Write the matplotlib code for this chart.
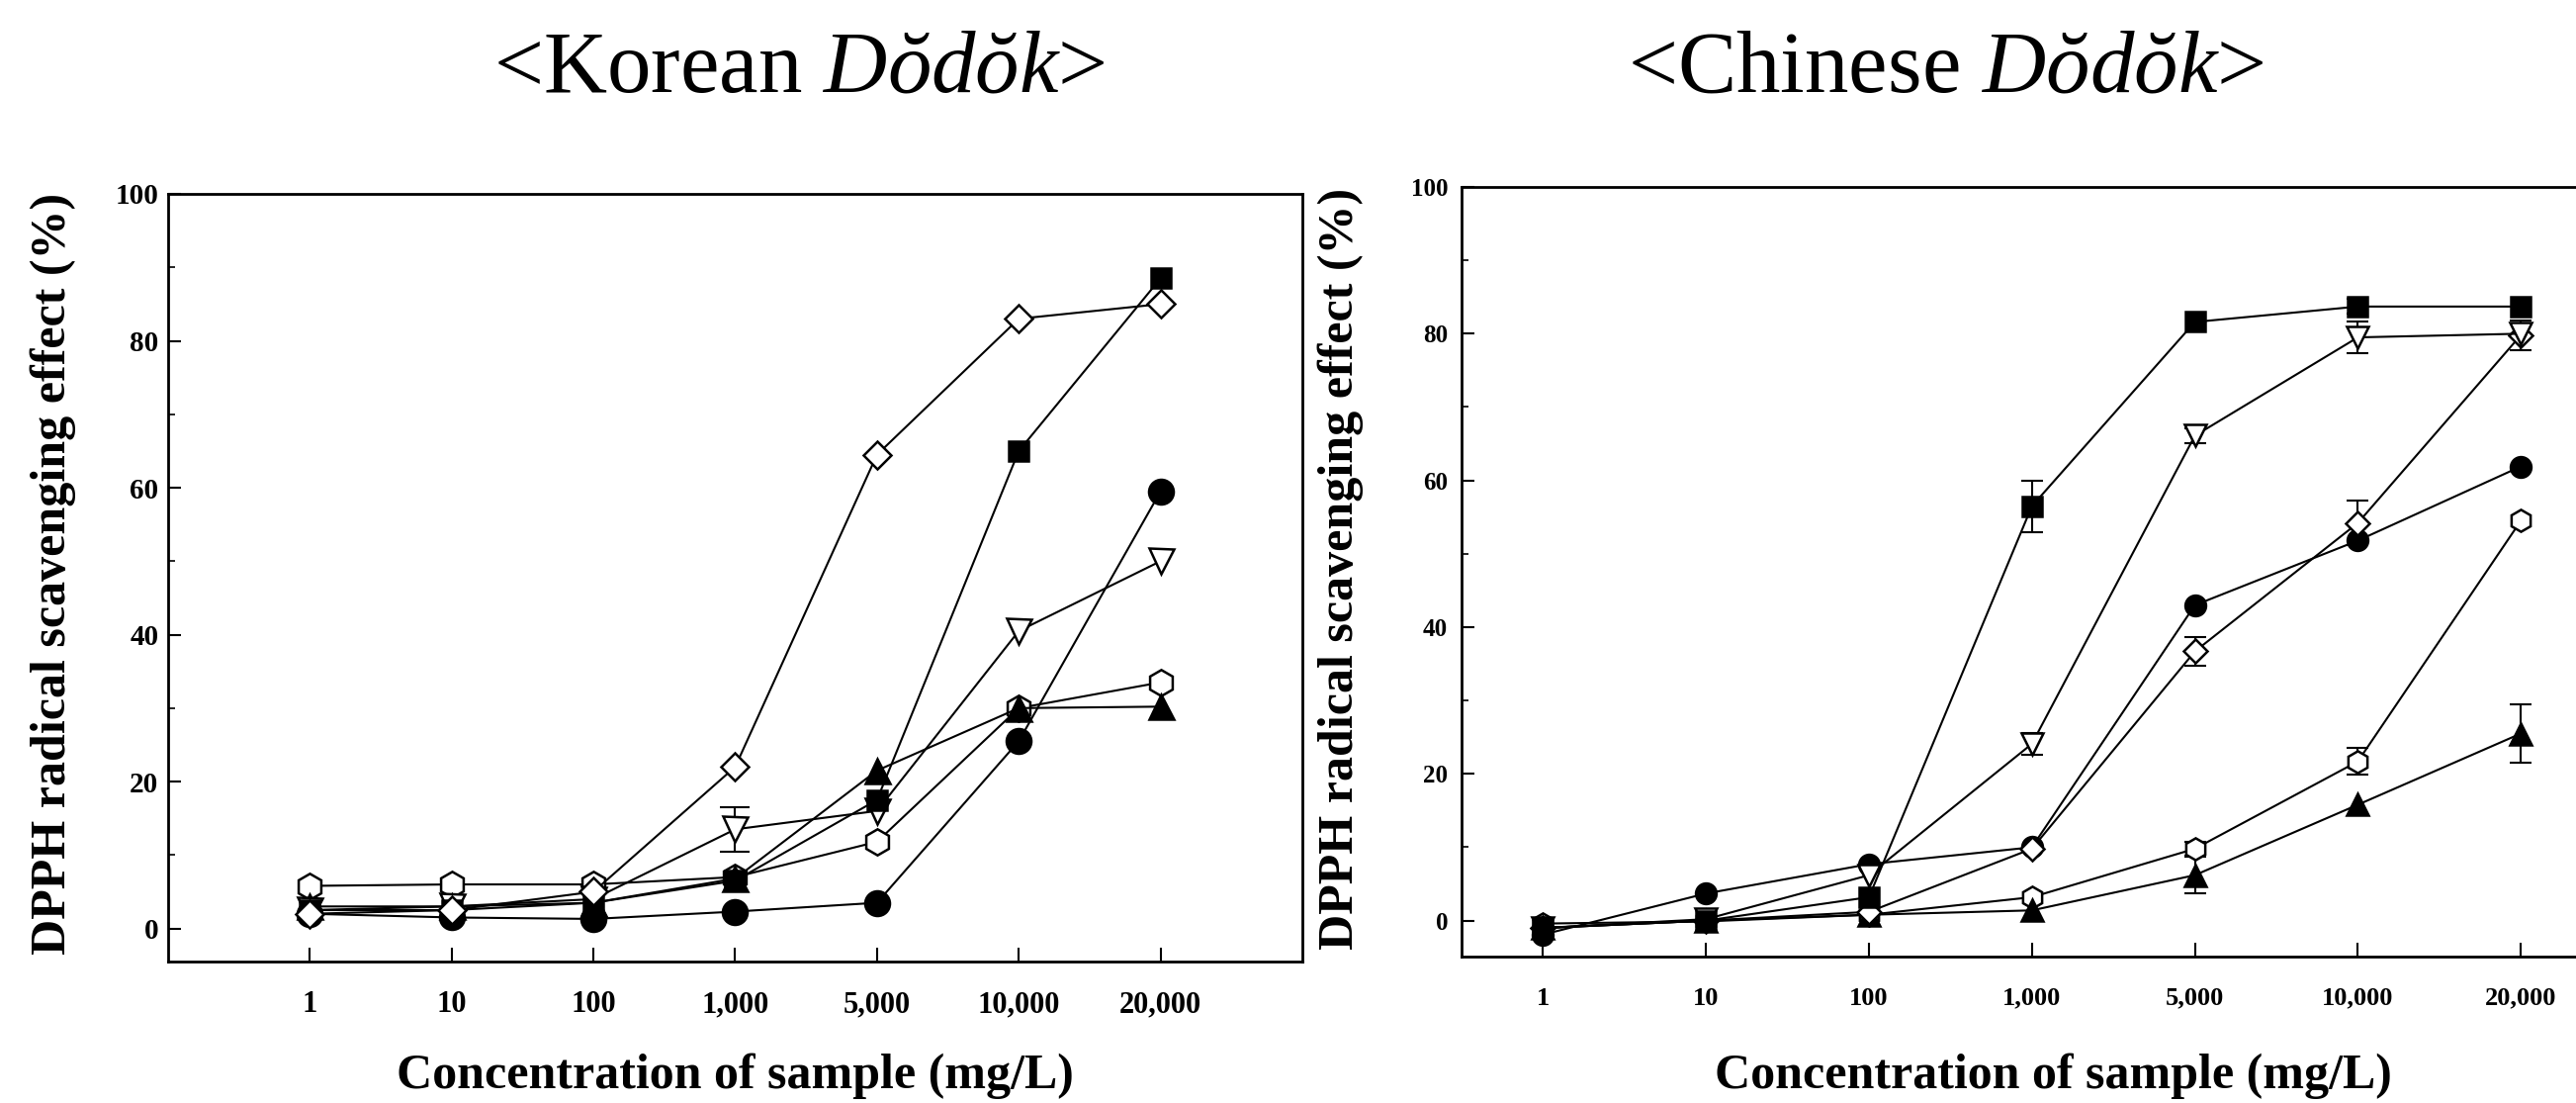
import matplotlib
matplotlib.use("Agg")
import matplotlib.pyplot as plt
from matplotlib.ticker import MultipleLocator

plt.rcParams['font.family'] = ['Liberation Serif', 'DejaVu Serif']
plt.rcParams['mathtext.fontset'] = 'custom'
plt.rcParams['mathtext.rm'] = 'Liberation Serif'
plt.rcParams['mathtext.it'] = 'Liberation Serif:italic'

conc_labels = ["1", "10", "100", "1,000", "5,000", "10,000", "20,000"]

# Korean Dodok (left panel)
kor_sq = [2.5, 2.5, 3.5, 6.5, 17.5, 65.0, 88.5]
kor_dia = [2.0, 2.5, 5.0, 22.0, 64.5, 83.0, 85.0]
kor_circ = [2.0, 1.5, 1.3, 2.3, 3.5, 25.5, 59.5]
kor_tdown = [2.5, 3.0, 4.0, 13.5, 16.0, 40.5, 50.0]
kor_hex = [5.8, 6.0, 6.0, 7.0, 11.8, 30.0, 33.5]
kor_tup = [3.0, 3.0, 3.5, 6.8, 21.5, 30.0, 30.2]
kor_tdown_err = [0, 0, 0, 3.0, 0, 0, 0]

# Chinese Dodok (right panel)
chn_sq = [-1.0, 0.0, 3.2, 56.5, 81.6, 83.7, 83.7]
chn_tdown = [-1.0, 0.2, 6.2, 24.1, 66.1, 79.5, 80.0]
chn_dia = [-1.0, 0.0, 1.2, 9.8, 36.7, 54.2, 79.8]
chn_circ = [-1.9, 3.7, 7.7, 10.0, 43.0, 51.8, 61.9]
chn_hex = [-0.4, -0.1, 0.8, 3.2, 9.8, 21.7, 54.5]
chn_tup = [-1.0, 0.0, 0.8, 1.4, 6.2, 15.8, 25.5]
chn_sq_err = [0, 0, 0, 3.5, 0, 1.0, 0]
chn_tdown_err = [0, 0, 0, 1.5, 1.0, 2.2, 0]
chn_dia_err = [0, 0, 0, 0, 2.0, 3.0, 2.0]
chn_hex_err = [0, 0, 0, 0, 1.0, 1.8, 0]
chn_tup_err = [0, 0, 0, 0, 2.5, 0, 4.0]

W, H = 2605, 1115
fig = plt.figure(figsize=(W / 100, H / 100), dpi=100)

ax1 = fig.add_axes([170 / W, 1 - 972 / H, 1147 / W, 776 / H])
ax2 = fig.add_axes([1478 / W, 1 - 967 / H, 1236 / W, 778 / H])

x = list(range(len(conc_labels)))


def draw(ax, y, marker, filled, ms, err=None, capsize=8):
    if err is not None:
        idx = [i for i, e in enumerate(err) if e > 0]
        if idx:
            ax.errorbar([x[i] for i in idx], [y[i] for i in idx],
                        yerr=[err[i] for i in idx], fmt='none', ecolor='black',
                        elinewidth=1.5, capsize=capsize, capthick=1.5, zorder=2)
    fc = 'black' if filled else 'white'
    ax.plot(x, y, color='black', lw=1.5, marker=marker, ms=ms,
            mfc=fc, mec='black', mew=1.8, zorder=3)


# left
draw(ax1, kor_circ, 'o', True, 18)
draw(ax1, kor_hex, 'h', False, 19)
draw(ax1, kor_tup, '^', True, 18)
draw(ax1, kor_tdown, 'v', False, 18, kor_tdown_err, capsize=11)
draw(ax1, kor_sq, 's', True, 15)
draw(ax1, kor_dia, 'D', False, 14)

# right
draw(ax2, chn_circ, 'o', True, 15)
draw(ax2, chn_hex, 'h', False, 16, chn_hex_err)
draw(ax2, chn_tup, '^', True, 16, chn_tup_err)
draw(ax2, chn_dia, 'D', False, 12, chn_dia_err)
draw(ax2, chn_tdown, 'v', False, 16, chn_tdown_err)
draw(ax2, chn_sq, 's', True, 14, chn_sq_err)

ax1.set_xlim(-1, 7)
ax1.set_ylim(-4.5, 100)
ax2.set_xlim(-0.5, 7)
ax2.set_ylim(-4.9, 100)

for ax, fs, xpad, ypad in [(ax1, 22, 21, 7), (ax2, 19, 22, 10)]:
    ax.set_xticks(x)
    ax.set_xticklabels(conc_labels)
    ax.yaxis.set_major_locator(MultipleLocator(20))
    ax.yaxis.set_minor_locator(MultipleLocator(10))
    ax.tick_params(axis='x', which='major', direction='in', length=10, width=1.5,
                   pad=xpad, labelsize=fs)
    ax.tick_params(axis='y', which='major', direction='in', length=9, width=1.5,
                   pad=ypad, labelsize=fs - 1)
    ax.tick_params(axis='y', which='minor', direction='in', length=5, width=1.2)
    for lab in ax.get_xticklabels() + ax.get_yticklabels():
        lab.set_fontweight('bold')
    for sp in ax.spines.values():
        sp.set_linewidth(2)

# titles
fig.text(808 / W, 1 - 93 / H, '<Korean $\\mathit{Dŏdŏk}$>', fontsize=64,
         ha='center', va='baseline')
fig.text(1968 / W, 1 - 93 / H, '<Chinese $\\mathit{Dŏdŏk}$>', fontsize=64,
         ha='center', va='baseline')

ylab = 'DPPH radical scavenging effect (%)'
fig.text(54 / W, 1 - 580 / H, ylab, rotation=90, fontsize=36,
         fontweight='bold', ha='center', va='center')
fig.text(1356 / W, 1 - 575 / H, ylab, rotation=90, fontsize=36,
         fontweight='bold', ha='center', va='center')

xlab = 'Concentration of sample (mg/L)'
fig.text(743 / W, 1 - 1100 / H, xlab, fontsize=36, fontweight='bold',
         ha='center', va='baseline')
fig.text(2076 / W, 1 - 1100 / H, xlab, fontsize=36, fontweight='bold',
         ha='center', va='baseline')

fig.savefig('out.png', dpi=100)
